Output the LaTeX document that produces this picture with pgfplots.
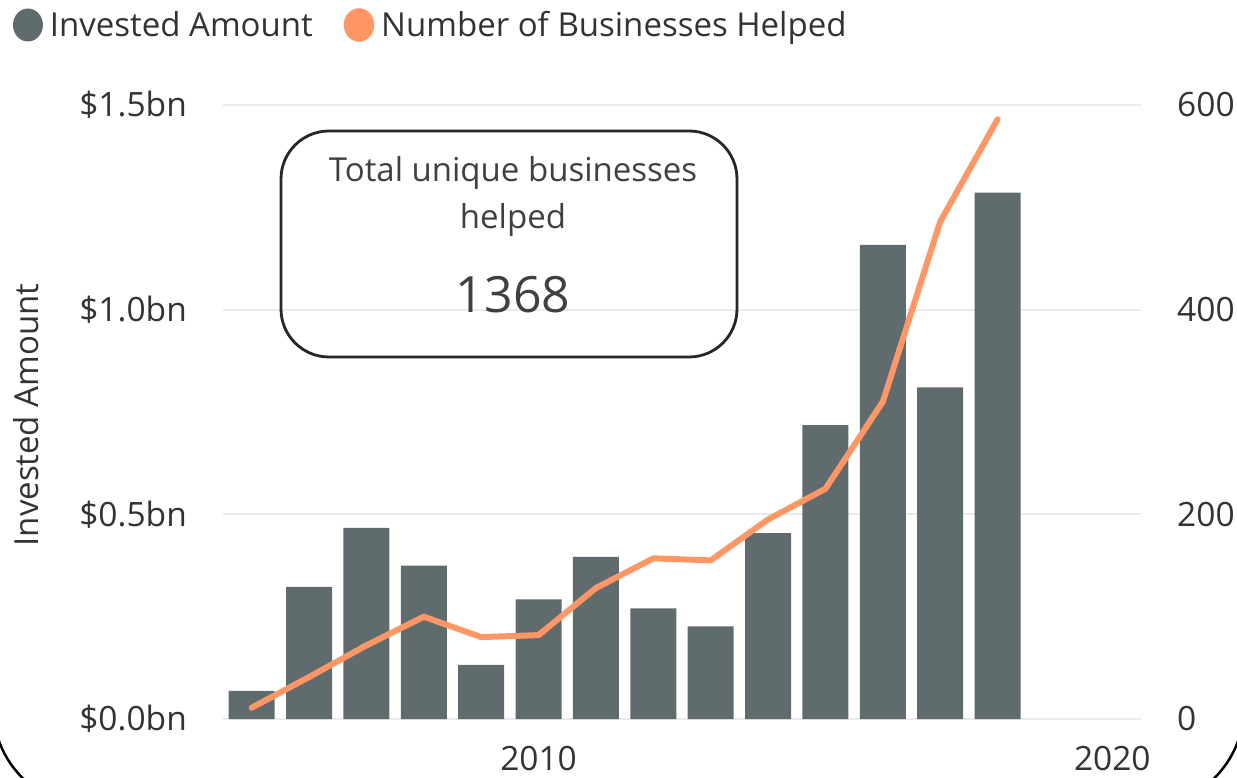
\documentclass[border=0pt]{standalone}
\usepackage{pgfplots}
\pgfplotsset{compat=1.18}
\usepackage{fontspec}
\setmainfont{Open Sans}
\definecolor{barcol}{HTML}{5F6B6D}
\definecolor{linecol}{HTML}{FE9666}
\definecolor{gridcol}{HTML}{EBEBEB}
\definecolor{txt}{HTML}{333333}
\definecolor{boxtxt}{HTML}{404040}

\pgfplotstableread{
year invest
2005 0.069
2006 0.323
2007 0.467
2008 0.375
2009 0.132
2010 0.292
2011 0.396
2012 0.270
2013 0.226
2014 0.454
2015 0.718
2016 1.158
2017 0.810
2018 1.286
}\investtable
\pgfplotstableread{
year helped
2005 11
2006 41
2007 72
2008 100
2009 80
2010 82
2011 128
2012 157
2013 155
2014 195
2015 225
2016 310
2017 486
2018 586
}\helpedtable

\begin{document}
\begin{tikzpicture}[x=1pt,y=1pt]
\path[use as bounding box] (0,0) rectangle (1237,777);
\pgfplotsset{
  base/.style={
    scale only axis, width=918pt, height=614pt,
    at={(223pt,58pt)}, anchor=south west,
    xmin=2004.5, xmax=2020.5, ymin=0,
    axis line style={draw=none}, major tick style={draw=none},
    /pgf/number format/assume math mode=true,
    tick label style={font=\fontsize{33.5}{38}\selectfont, text=txt},
  }
}
\begin{axis}[base,
  ymax=1.5,
  ytick={0,0.5,1,1.5},
  yticklabels={\$0.0bn,\$0.5bn,\$1.0bn,\$1.5bn},
  yticklabel style={inner sep=0pt, xshift=-36pt},
  xtick={2010,2020}, xticklabels={2010,2020},
  xticklabel style={inner sep=0pt, yshift=-27pt},
  ymajorgrids, grid style={gridcol, line width=2pt},
  legend style={at={(axis description cs:-0.2288,1.1303)}, anchor=west,
    draw=none, fill=none, inner sep=0pt, outer sep=0pt,
    legend columns=2, font=\fontsize{33}{38}\selectfont, text=txt,
    /tikz/every even column/.append style={column sep=29pt},
    /tikz/every odd column/.append style={column sep=5pt}},
  legend cell align=left,
]
\addplot[ybar, bar width=46pt, fill=barcol, draw=none,
  legend image code/.code={\fill[barcol] (0pt,0pt) ellipse (15pt and 16.5pt);}]
  table[x=year, y=invest] {\investtable};
\addlegendentry{Invested Amount}
\addlegendimage{legend image code/.code={\fill[linecol] (0pt,0pt) ellipse (15pt and 16.5pt);}}
\addlegendentry{Number of Businesses Helped}
\end{axis}
\begin{axis}[base,
  ymax=600,
  axis y line*=right, axis x line=none,
  ytick={0,200,400,600},
  yticklabel style={inner sep=0pt, xshift=36pt},
]
\addplot[linecol, line width=6pt, line join=round, line cap=round, mark=none]
  table[x=year, y=helped] {\helpedtable};
\end{axis}
\node[draw=black!85, rounded corners=48pt, line width=2.8pt,
  minimum width=456pt, minimum height=226pt] at (509,533) {};
\node[text=boxtxt, font=\fontsize{33}{38}\selectfont] at (513,604) {Total unique businesses};
\node[text=boxtxt, font=\fontsize{33}{38}\selectfont] at (513,557) {helped};
\node[text=boxtxt, font=\fontsize{50}{56}\selectfont] at (513,482) {1368};
\node[rotate=90, text=txt, font=\fontsize{33}{38}\selectfont] at (26,362) {Invested Amount};
\draw[black, line width=2.5pt, rounded corners=100pt] (-7,-30) rectangle (1244,900);
\end{tikzpicture}
\end{document}
